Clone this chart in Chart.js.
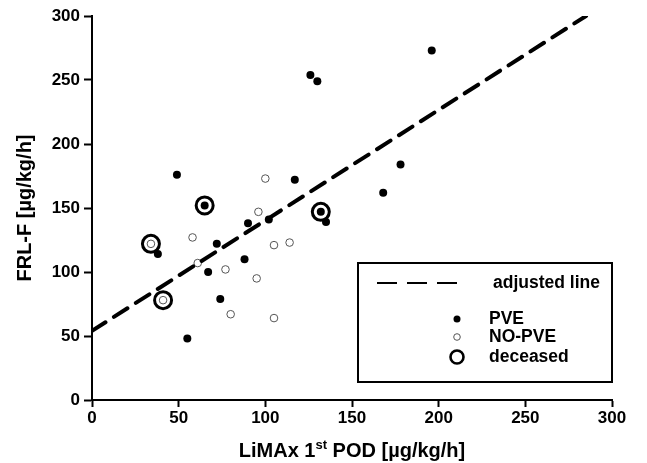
<!DOCTYPE html>
<html>
<head>
<meta charset="utf-8">
<script src="https://cdn.jsdelivr.net/npm/chart.js@4/dist/chart.umd.min.js"></script>
<style>
html,body{margin:0;padding:0;background:#fff;}
canvas{display:block;}
</style>
</head>
<body>
<canvas id="c" width="647" height="463"></canvas>
<script>
// ---- data ----
const pveX = [49, 65, 38, 67, 74, 55, 117, 90, 102, 132, 135, 72, 88, 196, 178, 168, 126, 130];
const pveY = [176, 152, 114, 100, 79, 48, 172, 138, 141, 147, 139, 122, 110, 273, 184, 162, 254, 249];
const noPveX = [34, 58, 61, 77, 80, 41, 100, 96, 105, 114, 95, 105];
const noPveY = [122, 127, 107, 102, 67, 78, 173, 147, 121, 123, 95, 64];
const deceasedX = [34, 41, 65, 132];
const deceasedY = [122, 78, 152, 147];
const lineX = [0, 285];
const lineY = [54, 300];
const axisMin = 0, axisMax = 300, axisStep = 50;
const yTitle = 'FRL-F [µg/kg/h]';
const xTitleParts = ['LiMAx 1', 'st', ' POD [µg/kg/h]'];
const legendLabels = ['adjusted line', 'PVE', 'NO-PVE', 'deceased'];

const FONT = '"Liberation Sans", Arial, Helvetica, sans-serif';
const toPts = (xs, ys) => xs.map((x, i) => ({x: x, y: ys[i]}));

const overlay = {
  id: 'overlay',
  afterDraw(chart) {
    const ctx = chart.ctx;
    const a = chart.chartArea;
    ctx.save();
    // x-axis title with superscript
    const mainFont = 'bold 20px ' + FONT;
    const supFont = 'bold 13px ' + FONT;
    ctx.fillStyle = '#000';
    ctx.textBaseline = 'alphabetic';
    ctx.font = mainFont;
    const w0 = ctx.measureText(xTitleParts[0]).width;
    const w2 = ctx.measureText(xTitleParts[2]).width;
    ctx.font = supFont;
    const w1 = ctx.measureText(xTitleParts[1]).width;
    const total = w0 + w1 + w2;
    let tx = (a.left + a.right) / 2 - total / 2;
    const ty = a.bottom + 57;
    ctx.font = mainFont; ctx.textAlign = 'left';
    ctx.fillText(xTitleParts[0], tx, ty); tx += w0;
    ctx.font = supFont;
    ctx.fillText(xTitleParts[1], tx, ty - 8); tx += w1;
    ctx.font = mainFont;
    ctx.fillText(xTitleParts[2], tx, ty);

    // legend box
    const bx = a.left + 266, by = a.top + 247, bw = 254, bh = 119;
    ctx.fillStyle = '#fff';
    ctx.fillRect(bx, by, bw, bh);
    ctx.strokeStyle = '#000';
    ctx.lineWidth = 2;
    ctx.strokeRect(bx, by, bw, bh);
    const mx = bx + 99;
    const textX = bx + 131;
    // dashed sample
    ctx.lineWidth = 1.8;
    ctx.setLineDash([20, 10]);
    ctx.beginPath();
    ctx.moveTo(bx + 19, by + 20);
    ctx.lineTo(mx, by + 20);
    ctx.stroke();
    ctx.setLineDash([]);
    // PVE
    ctx.fillStyle = '#000';
    ctx.beginPath(); ctx.arc(mx, by + 56, 3.5, 0, Math.PI * 2); ctx.fill();
    // NO-PVE
    ctx.fillStyle = '#fff'; ctx.strokeStyle = '#555'; ctx.lineWidth = 1;
    ctx.beginPath(); ctx.arc(mx, by + 74, 3.3, 0, Math.PI * 2); ctx.fill(); ctx.stroke();
    // deceased
    ctx.strokeStyle = '#000'; ctx.lineWidth = 2.6;
    ctx.beginPath(); ctx.arc(mx, by + 94, 6.5, 0, Math.PI * 2); ctx.stroke();
    // texts
    ctx.fillStyle = '#000';
    ctx.font = 'bold 17.5px ' + FONT;
    ctx.textBaseline = 'middle';
    ctx.textAlign = 'left';
    ctx.fillText(legendLabels[0], textX + 4, by + 20);
    ctx.fillText(legendLabels[1], textX, by + 56);
    ctx.fillText(legendLabels[2], textX, by + 74);
    ctx.fillText(legendLabels[3], textX, by + 94);
    ctx.restore();
  }
};

const tickFont = {family: FONT, size: 17, weight: 'bold'};

new Chart(document.getElementById('c'), {
  type: 'scatter',
  data: {
    datasets: [
      {
        label: legendLabels[3],
        data: toPts(deceasedX, deceasedY),
        pointRadius: 8.5,
        pointBorderWidth: 3,
        pointBorderColor: '#000',
        pointBackgroundColor: 'rgba(0,0,0,0)',
        order: 1
      },
      {
        label: legendLabels[1],
        data: toPts(pveX, pveY),
        pointRadius: 4,
        pointBorderWidth: 0,
        pointBackgroundColor: '#000',
        pointBorderColor: '#000',
        order: 2
      },
      {
        label: legendLabels[2],
        data: toPts(noPveX, noPveY),
        pointRadius: 3.8,
        pointBorderWidth: 1,
        pointBackgroundColor: '#fff',
        pointBorderColor: '#555',
        order: 3
      },
      {
        type: 'line',
        label: legendLabels[0],
        data: toPts(lineX, lineY),
        showLine: true,
        fill: false,
        pointRadius: 0,
        borderColor: '#000',
        borderWidth: 4,
        borderDash: [16, 10],
        borderCapStyle: 'round',
        order: 0
      }
    ]
  },
  options: {
    responsive: false,
    animation: false,
    devicePixelRatio: 1,
    layout: {padding: {top: 16, right: 35, left: 0, bottom: 0}},
    plugins: {legend: {display: false}, tooltip: {enabled: false}},
    scales: {
      x: {
        type: 'linear', min: axisMin, max: axisMax,
        ticks: {stepSize: axisStep, color: '#000', font: tickFont, padding: 1, maxRotation: 0, autoSkip: false},
        grid: {drawOnChartArea: false, drawTicks: true, tickLength: 7, tickWidth: 2, tickColor: '#000'},
        border: {color: '#000', width: 2},
        afterFit(s) { s.height = 63; }
      },
      y: {
        type: 'linear', min: axisMin, max: axisMax,
        ticks: {stepSize: axisStep, color: '#000', font: tickFont, padding: 4, autoSkip: false},
        grid: {drawOnChartArea: false, drawTicks: true, tickLength: 8, tickWidth: 2, tickColor: '#000'},
        border: {color: '#000', width: 2},
        title: {display: true, text: yTitle, color: '#000', font: {family: FONT, size: 20, weight: 'bold'}, padding: {top: 13, bottom: 0}},
        afterFit(s) { s.width = 92; }
      }
    }
  },
  plugins: [overlay]
});
</script>
</body>
</html>
